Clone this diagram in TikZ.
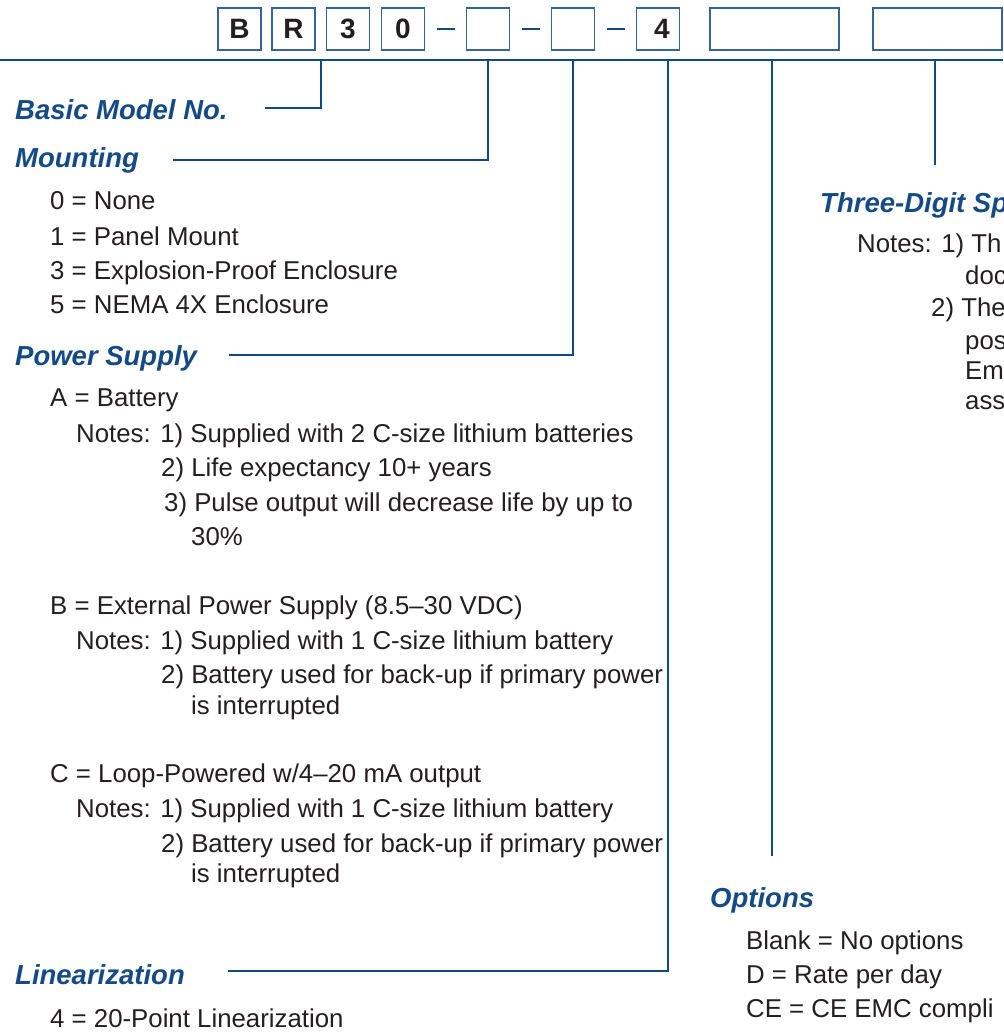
\documentclass[tikz,border=0pt]{standalone}
\usepackage{fontspec}
\setmainfont{Liberation Sans}
\definecolor{lineblue}{RGB}{16,72,136}
\definecolor{boxblue}{RGB}{52,100,156}
\definecolor{headblue}{RGB}{20,75,135}
\definecolor{txtgray}{RGB}{35,31,32}
\newcommand{\itemfont}{\fontsize{25.8}{30}\selectfont}
\newcommand{\headfont}{\fontsize{27.5}{32}\selectfont\bfseries\itshape}
\newcommand{\digitfont}{\fontsize{28}{30}\selectfont\bfseries}
\begin{document}
\begin{tikzpicture}[x=1pt, y=-1pt,
  digit/.style={draw=boxblue, line width=1.8pt, minimum width=43pt, minimum height=42pt, inner sep=0pt, font=\digitfont, text=txtgray},
  widebox/.style={digit, minimum width=129pt},
  sepbar/.style={fill=lineblue, minimum width=18pt, minimum height=2.6pt, inner sep=0pt},
  link/.style={draw=lineblue, line width=2.8pt},
  head/.style={anchor=base west, inner sep=0pt, font=\headfont, text=headblue},
  item/.style={anchor=base west, inner sep=0pt, font=\itemfont, text=txtgray}]
  \useasboundingbox (0,0) rectangle (1003,1032);
  \clip (0,0) rectangle (1003,1032);

  % Model code boxes
  \node[digit] (dB) at (239.5,29) {B};
  \node[digit] (dR) at (293.5,29) {R};
  \node[digit] (d3) at (348,29) {3};
  \node[digit] (d0) at (403,29) {0};
  \node[sepbar] (s1) at (446,29) {};
  \node[digit] (dMnt) at (488,29) {};
  \node[sepbar] (s2) at (531,29) {};
  \node[digit] (dPwr) at (573,29) {};
  \node[sepbar] (s3) at (616,29) {};
  \node[digit] (dLin) at (658,29) {\hspace*{8pt}4};
  \node[widebox] (dOpt) at (774.5,29) {};
  \node[widebox] (dSpc) at (937.5,29) {};

  % Bus line and taps
  \coordinate (busL) at (0,60);
  \coordinate (busR) at (1003,60);
  \draw[link] (busL) -- (busR);
  \coordinate (tapBas) at (321,60);
  \coordinate (tapMnt) at (488,60);
  \coordinate (tapPwr) at (573,60);
  \coordinate (tapLin) at (668,60);
  \coordinate (tapOpt) at (772,60);
  \coordinate (tapSpc) at (935,60);

  % Connector ends
  \coordinate (endBas) at (265,108);
  \coordinate (endMnt) at (173,160);
  \coordinate (endPwr) at (229,355);
  \coordinate (endLin) at (228,971);
  \coordinate (endOpt) at (772,856);
  \coordinate (endSpc) at (935,165);
  \draw[link] (tapBas) |- (endBas);
  \draw[link] (tapMnt) |- (endMnt);
  \draw[link] (tapPwr) |- (endPwr);
  \draw[link] (tapLin) |- (endLin);
  \draw[link] (tapOpt) -- (endOpt);
  \draw[link] (tapSpc) -- (endSpc);

  % Basic model, mounting
  \node[head] (hBas) at (15,120) {Basic Model No.};
  \node[head] (hMnt) at (15,168) {Mounting};
  \node[item] (mnt0) at (50,210) {0 = None};
  \node[item] (mnt1) at (50,245) {1 = Panel Mount};
  \node[item] (mnt3) at (50,279) {3 = Explosion-Proof Enclosure};
  \node[item] (mnt5) at (50,313) {5 = NEMA 4X Enclosure};

  % Power supply
  \node[head] (hPwr) at (15,365) {Power Supply};
  \node[item] (pwrA) at (50,406) {A = Battery};
  \node[item] (pwrA1) at (76,442) {Notes: 1) Supplied with 2 C-size lithium batteries};
  \node[item] (pwrA2) at (161,476) {2) Life expectancy 10+ years};
  \node[item] (pwrA3) at (164,511) {3) Pulse output will decrease life by up to};
  \node[item] (pwrA3b) at (191,545) {30\%};
  \node[item] (pwrB) at (50,614) {B = External Power Supply (8.5–30 VDC)};
  \node[item] (pwrB1) at (76,649) {Notes: 1) Supplied with 1 C-size lithium battery};
  \node[item] (pwrB2) at (161,683) {2) Battery used for back-up if primary power};
  \node[item] (pwrB2b) at (191,714) {is interrupted};
  \node[item] (pwrC) at (50,782) {C = Loop-Powered w/4–20 mA output};
  \node[item] (pwrC1) at (76,817) {Notes: 1) Supplied with 1 C-size lithium battery};
  \node[item] (pwrC2) at (161,852) {2) Battery used for back-up if primary power};
  \node[item] (pwrC2b) at (191,882) {is interrupted};

  % Linearization
  \node[head] (hLin) at (15,984) {Linearization};
  \node[item] (lin4) at (50,1027) {4 = 20-Point Linearization};

  % Three-digit special (cut at the right edge)
  \node[head] (hSpc) at (820,213) {Three-Digit Sp};
  \node[item] (spc1) at (857,252) {Notes: 1) Th};
  \node[item] (spc1b) at (965,284) {doc};
  \node[item] (spc2) at (931,316) {2) The};
  \node[item] (spc2b) at (965,349) {pos};
  \node[item] (spc2c) at (965,379) {Em};
  \node[item] (spc2d) at (965,409) {ass};

  % Options
  \node[head] (hOpt) at (710,907) {Options};
  \node[item] (optBl) at (746,949) {Blank = No options};
  \node[item] (optD) at (746,983) {D = Rate per day};
  \node[item] (optCE) at (746,1017) {CE = CE EMC compli};
\end{tikzpicture}
\end{document}
